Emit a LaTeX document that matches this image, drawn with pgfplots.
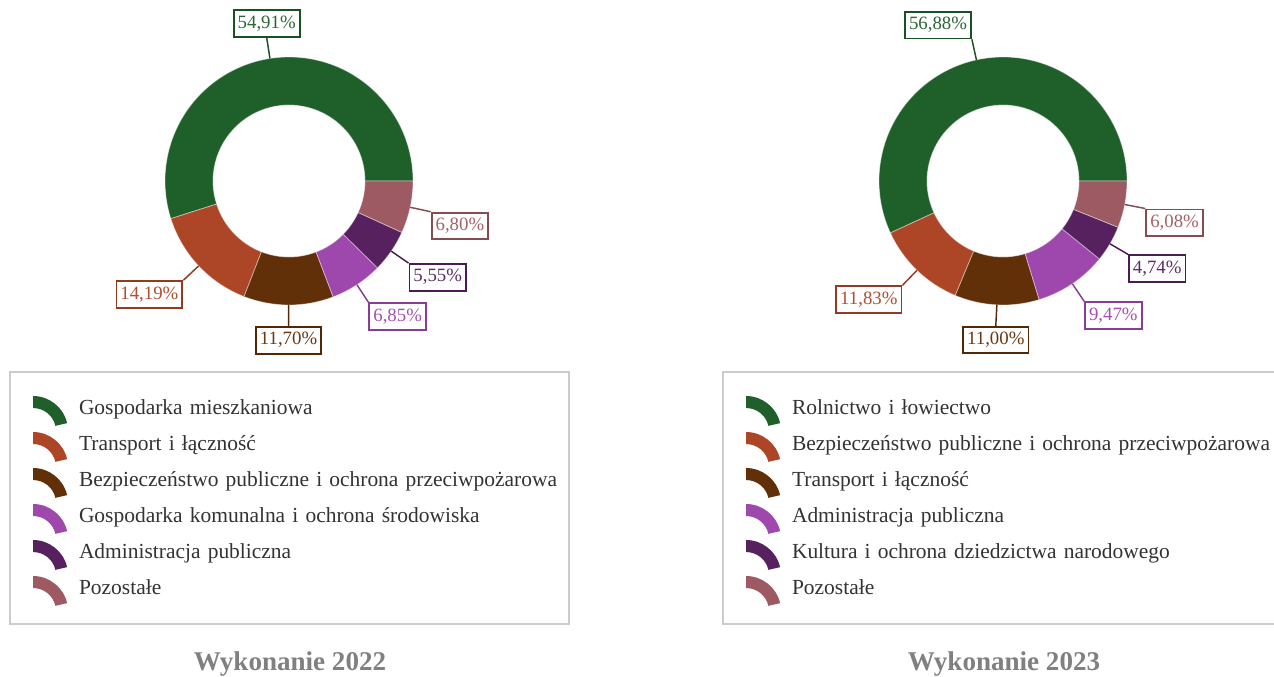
\documentclass[border=0pt]{standalone}
\usepackage{fontspec}
\setmainfont{Liberation Serif}
\usepackage{pgfplots}
\usepackage{pgfplotstable}
\pgfplotsset{compat=1.18}

\definecolor{seg0}{HTML}{1F5F2A}
\definecolor{seg1}{HTML}{AD4527}
\definecolor{seg2}{HTML}{612F08}
\definecolor{seg3}{HTML}{9E48AD}
\definecolor{seg4}{HTML}{57215F}
\definecolor{seg5}{HTML}{9D5A62}

% shares in percent, centre of each ring in pixel units
\pgfplotstableread{
id cx cy val
0 289 181 54.91
1 289 181 14.19
2 289 181 11.70
3 289 181 6.85
4 289 181 5.55
5 289 181 6.80
}\wykA
\pgfplotstableread{
id cx cy val
0 1003 181 56.88
1 1003 181 11.83
2 1003 181 11.00
3 1003 181 9.47
4 1003 181 4.74
5 1003 181 6.08
}\wykB
\pgfplotstablecreatecol[create col/expr accum={\pgfmathaccuma+\thisrow{val}}{0}]{cum}{\wykA}
\pgfplotstablecreatecol[create col/expr accum={\pgfmathaccuma+\thisrow{val}}{0}]{cum}{\wykB}

\pgfdeclareplotmark{nomark}{}

\newcommand\legicon[1]{%
  \path[draw=none, fill=none] (0pt,-13.5pt) rectangle (51.75pt,13.5pt);
  \fill[#1, draw=none] ([shift={(17.25pt,-17.25pt)}]13:26.25pt)
    arc[start angle=13, end angle=90, radius=26.25pt] -- ++(0pt,-9pt)
    arc[start angle=90, end angle=13, radius=17.25pt] -- cycle;}

\tikzset{wtitle/.style={font=\bfseries\fontsize{20.3}{24}\selectfont, text=black!50}}

\pgfplotsset{
  panel/.style={
    width=477.75pt, height=507.75pt, scale only axis,
    ymin=0, ymax=677, y dir=reverse, hide axis, clip=false,
    legend cell align=left,
    legend style={anchor=north west, draw=black!20, line width=1.1pt, fill=white,
      outer sep=0pt, inner xsep=0pt, inner ysep=13.5pt, row sep=0pt, column sep=0pt,
      nodes={inner sep=0pt, minimum height=27pt, text width=367.5pt, text=black!80,
        font=\fontsize{16.1}{19}\selectfont}},
  },
  donut/.style={
    scatter, only marks, mark=nomark, forget plot,
    visualization depends on={\thisrow{id} \as \dnIdRaw},
    visualization depends on={\thisrow{val} \as \dnVal},
    visualization depends on={\thisrow{cum} \as \dnCum},
    scatter/@pre marker code/.code={%
      \scope
      \pgfmathtruncatemacro\dnId{\dnIdRaw}%
      \pgfmathsetmacro\dnSt{(\dnCum-\dnVal)*3.6}%
      \pgfmathsetmacro\dnEn{\dnCum*3.6}%
      \pgfmathsetmacro\dnMid{(\dnCum-\dnVal/2)*3.6}%
      \pgfmathtruncatemacro\dnQ{\dnMid/90}%
      \ifcase\dnQ \def\dnAnc{south west}\or \def\dnAnc{south east}\or
        \def\dnAnc{north east}\else \def\dnAnc{north west}\fi
      \pgfmathtruncatemacro\dnV{abs(\dnMid-90)<10}%
      \ifnum\dnV=1 \def\dnAnc{south}\fi
      \pgfmathtruncatemacro\dnV{abs(\dnMid-270)<10}%
      \ifnum\dnV=1 \def\dnAnc{north}\fi
      \fill[seg\dnId, draw=white, draw opacity=0.45, line width=0.6pt]
        (\dnSt:93pt) arc[start angle=\dnSt, end angle=\dnEn, radius=93pt]
        -- (\dnEn:57pt) arc[start angle=\dnEn, end angle=\dnSt, radius=57pt] -- cycle;
      \draw[seg\dnId!85!black, line width=1.1pt] (\dnMid:93pt) -- (\dnMid:108.75pt)
        node[anchor=\dnAnc, draw=seg\dnId!85!black, line width=1.4pt, fill=white,
          text=seg\dnId!95!white, inner xsep=3pt, inner ysep=4pt,
          text height=9.5pt, text depth=2.5pt, font=\fontsize{14.1}{16}\selectfont]
        {\pgfmathprintnumber[fixed, fixed zerofill, precision=2, use comma,
          assume math mode=true]{\dnVal}\%};
    },
    scatter/@post marker code/.code={\endscope},
  },
}

\begin{document}
\begin{tikzpicture}
\begin{axis}[panel, at={(0pt,0pt)}, xmin=0, xmax=637,
  legend style={at={(axis description cs:0.0157,0.4505)}}]
  \addplot[donut] table[x=cx, y=cy] {\wykA};
  \addlegendimage{legend image code/.code={\legicon{seg0}}}
  \addlegendentry{Gospodarka mieszkaniowa}
  \addlegendimage{legend image code/.code={\legicon{seg1}}}
  \addlegendentry{Transport i łączność}
  \addlegendimage{legend image code/.code={\legicon{seg2}}}
  \addlegendentry{Bezpieczeństwo publiczne i ochrona przeciwpożarowa}
  \addlegendimage{legend image code/.code={\legicon{seg3}}}
  \addlegendentry{Gospodarka komunalna i ochrona środowiska}
  \addlegendimage{legend image code/.code={\legicon{seg4}}}
  \addlegendentry{Administracja publiczna}
  \addlegendimage{legend image code/.code={\legicon{seg5}}}
  \addlegendentry{Pozostałe}
  \node[wtitle] at (axis cs:290,664) {Wykonanie 2022};
\end{axis}
\begin{axis}[panel, at={(477.75pt,0pt)}, xmin=637, xmax=1274,
  legend style={at={(axis description cs:0.1350,0.4505)}}]
  \addplot[donut] table[x=cx, y=cy] {\wykB};
  \addlegendimage{legend image code/.code={\legicon{seg0}}}
  \addlegendentry{Rolnictwo i łowiectwo}
  \addlegendimage{legend image code/.code={\legicon{seg1}}}
  \addlegendentry{Bezpieczeństwo publiczne i ochrona przeciwpożarowa}
  \addlegendimage{legend image code/.code={\legicon{seg2}}}
  \addlegendentry{Transport i łączność}
  \addlegendimage{legend image code/.code={\legicon{seg3}}}
  \addlegendentry{Administracja publiczna}
  \addlegendimage{legend image code/.code={\legicon{seg4}}}
  \addlegendentry{Kultura i ochrona dziedzictwa narodowego}
  \addlegendimage{legend image code/.code={\legicon{seg5}}}
  \addlegendentry{Pozostałe}
  \node[wtitle] at (axis cs:1004,664) {Wykonanie 2023};
\end{axis}
\pgfresetboundingbox
\path[use as bounding box] (0pt,0pt) rectangle (955.5pt,507.75pt);
\end{tikzpicture}
\end{document}
